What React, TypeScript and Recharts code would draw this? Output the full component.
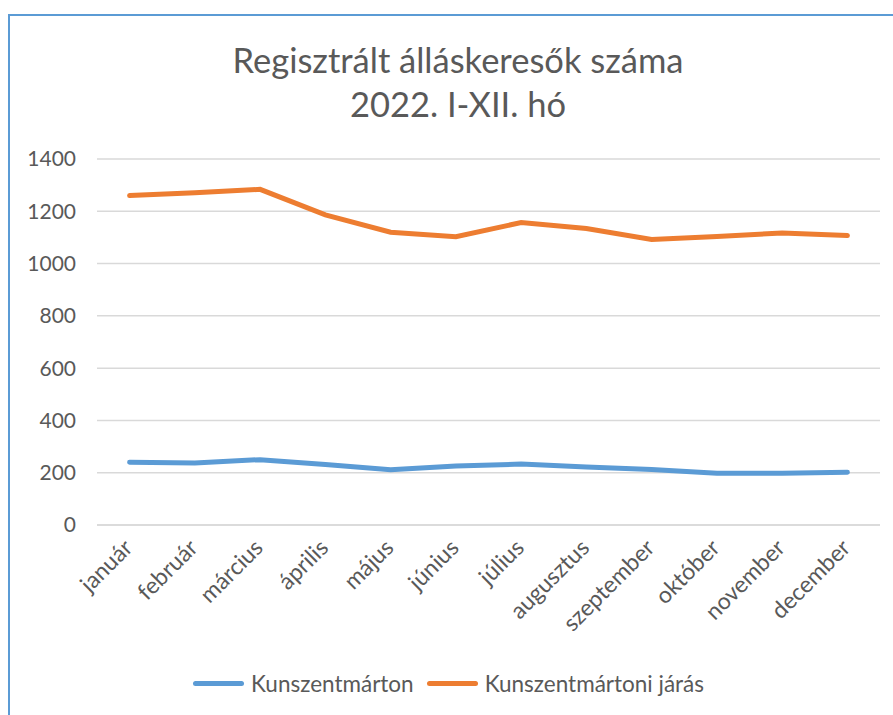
import React from 'react';
import { LineChart, Line, XAxis, YAxis, CartesianGrid, Legend } from 'recharts';

const months = [
  'január', 'február', 'március', 'április', 'május', 'június',
  'július', 'augusztus', 'szeptember', 'október', 'november', 'december',
];
const kunszentmarton = [240, 237, 250, 231, 211, 226, 233, 222, 212, 198, 198, 202];
const jaras = [1260, 1271, 1284, 1186, 1120, 1103, 1157, 1134, 1092, 1104, 1117, 1107];
const yTicks = [0, 200, 400, 600, 800, 1000, 1200, 1400];

const FONT = 'Lato, "Open Sans", sans-serif';
const TEXT = '#595959';
const BLUE = '#5B9BD5';
const ORANGE = '#ED7D31';

const data = months.map((m, i) => ({
  name: m,
  Kunszentmárton: kunszentmarton[i],
  'Kunszentmártoni járás': jaras[i],
}));

function MonthTick(props: any) {
  const { x, y, payload } = props;
  // rotated month names, right end near the category centre
  return (
    <g transform={`translate(${x - 7},${y + 5})`}>
      <text x={0} y={0} dy={16} textAnchor="end" fill={TEXT} fontSize={23} fontFamily={FONT} transform="rotate(-45)">
        {payload.value}
      </text>
    </g>
  );
}

function LegendBox(props: any) {
  const { payload } = props;
  return (
    <div style={{ display: 'flex', alignItems: 'center', height: 24, fontFamily: FONT }}>
      {(payload || []).map((p: any) => (
        <div key={p.value} style={{ display: 'flex', alignItems: 'center', marginRight: 13 }}>
          <span style={{ display: 'inline-block', width: 51, height: 5, borderRadius: 3, background: p.color, marginRight: 7 }} />
          <span style={{ color: TEXT, fontSize: 22.5 }}>{p.value}</span>
        </div>
      ))}
    </div>
  );
}

export default function App() {
  return (
    <div style={{ position: 'relative', width: 893, height: 715, background: '#fff', overflow: 'hidden' }}>
      <style>{'body{margin:0;overflow:hidden}'}</style>
      <div
        style={{
          position: 'absolute', left: 8, top: 14, width: 920, height: 740,
          border: `2px solid ${BLUE}`, boxSizing: 'border-box',
        }}
      />
      <div style={{ position: 'absolute', left: 0, width: 916, top: 38, textAlign: 'center', color: TEXT, fontFamily: FONT, fontSize: 34.5, lineHeight: '44px' }}>
        <div>Regisztrált álláskeresők száma</div>
        <div>2022. I-XII. hó</div>
      </div>
      <div style={{ position: 'absolute', left: 0, top: 0 }}>
        <LineChart width={893} height={715} data={data} margin={{ top: 159, right: 13, bottom: 20, left: 0 }}>
          <CartesianGrid vertical={false} stroke="#d9d9d9" strokeWidth={1.5} />
          <XAxis
            dataKey="name"
            interval={0}
            padding={{ left: 32.6, right: 32.6 }}
            tickLine={false}
            axisLine={{ stroke: '#d9d9d9', strokeWidth: 1.5 }}
            height={146}
            tick={<MonthTick />}
          />
          <YAxis
            domain={[0, 1400]}
            ticks={yTicks}
            width={97}
            tickLine={false}
            axisLine={false}
            tickSize={0}
            tickMargin={21}
            tick={{ fill: TEXT, fontSize: 21, fontFamily: FONT }}
          />
          <Legend content={<LegendBox />} wrapperStyle={{ left: 193, bottom: 20, width: 'auto' }} />
          <Line dataKey="Kunszentmárton" stroke={BLUE} strokeWidth={5} dot={false} strokeLinecap="round" isAnimationActive={false} />
          <Line dataKey="Kunszentmártoni járás" stroke={ORANGE} strokeWidth={5} dot={false} strokeLinecap="round" isAnimationActive={false} />
        </LineChart>
      </div>
    </div>
  );
}
